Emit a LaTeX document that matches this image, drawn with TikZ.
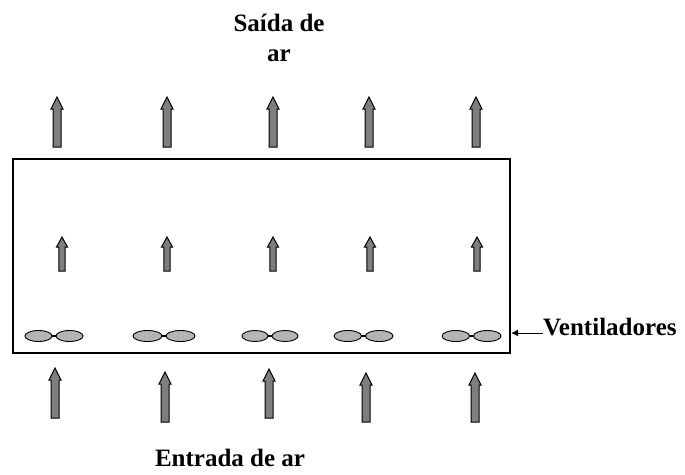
\documentclass[tikz,border=0pt]{standalone}
\usepackage{fontspec}
\setmainfont{Liberation Serif}
\usetikzlibrary{arrows.meta}
\definecolor{arrowgray}{HTML}{7E7E7E}
\definecolor{fangray}{HTML}{B4B4B4}
\tikzset{
  blockarrow/.style={draw=black, line width=1pt, fill=arrowgray, line join=miter},
  fanblade/.style={draw=black, line width=0.9pt, fill=fangray},
  label/.style={font=\bfseries\fontsize{25}{30}\selectfont, inner sep=0pt},
  frame/.style={draw=black, line width=1.3pt}
}
% \uparr{x}{top}{bottom}{half shaft}{half head}{head length}
\newcommand{\uparr}[6]{%
  \path[blockarrow] (#1-#4,#3) -- (#1-#4,#2+#6) -- (#1-#5,#2+#6) -- (#1,#2)
    -- (#1+#5,#2+#6) -- (#1+#4,#2+#6) -- (#1+#4,#3) -- cycle;}
% \fanpair{left x}{right x}
\newcommand{\fanpair}[2]{%
  \pgfmathsetmacro{\fw}{(#2-#1-4)/4}%
  \path[fanblade] (#1+\fw,336) ellipse [x radius=\fw, y radius=5.5];
  \path[fanblade] (#2-\fw,336) ellipse [x radius=\fw, y radius=5.5];
  \draw[black, line width=1.6pt] (#1+2*\fw,336) -- (#2-2*\fw,336);}
\begin{document}
\begin{tikzpicture}[x=1pt, y=-1pt]
\useasboundingbox (0,0) rectangle (685,474);
% box
\draw[frame] (13,159) rectangle (510,353);
\coordinate (boxedge) at (511,333);
% top arrows
\uparr{57}{97}{147}{4}{6}{12}
\uparr{167}{97}{147}{4}{6}{12}
\uparr{273}{97}{147}{4}{6}{12}
\uparr{369}{97}{147}{4}{6}{12}
\uparr{476}{97}{147}{4}{6}{12}
% inner arrows
\uparr{62}{237}{271}{3.2}{5.5}{10}
\uparr{167}{237}{271}{3.2}{5.5}{10}
\uparr{273}{237}{271}{3.2}{5.5}{10}
\uparr{370}{237}{271}{3.2}{5.5}{10}
\uparr{477}{237}{271}{3.2}{5.5}{10}
% fans
\fanpair{25}{83}
\fanpair{133}{195}
\fanpair{242}{298}
\fanpair{334}{393}
\fanpair{442}{501}
% bottom arrows
\uparr{55}{368}{418}{4}{6}{12}
\uparr{165}{372}{422}{4}{6}{12}
\uparr{269}{369}{418}{4}{6}{12}
\uparr{366}{373}{422}{4}{6}{12}
\uparr{475}{373}{422}{4}{6}{12}
% labels
\node[label, anchor=north, align=center] (saida) at (279,14) {Saída de\\ar};
\node[label, anchor=base] (entrada) at (230,466) {Entrada de ar};
\node[label, anchor=base west] (vent) at (543,335) {Ventiladores};
\draw[line width=1pt, -{Latex[length=7pt,width=7pt]}] (vent.west |- boxedge) -- (boxedge);
\end{tikzpicture}
\end{document}
